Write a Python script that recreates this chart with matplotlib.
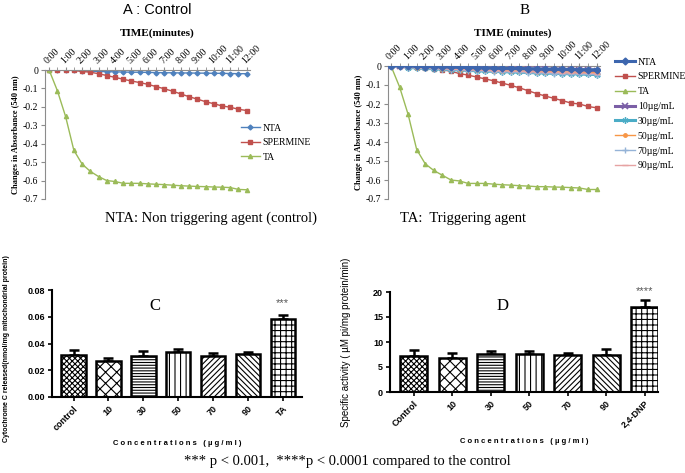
import numpy as np
import matplotlib.pyplot as plt

plt.rcParams['hatch.linewidth'] = 0.8

SERIF = 'Liberation Serif'
SANS = 'Liberation Sans'

# readings every 30 s, 0:00 .. 12:00
time_labels = ['0:00', '1:00', '2:00', '3:00', '4:00', '5:00', '6:00',
               '7:00', '8:00', '9:00', '10:00', '11:00', '12:00']

# panel A
nta_a = [0, 0, 0, -0.002, -0.004, -0.006, -0.008, -0.009, -0.01, -0.011, -0.012, -0.012,
         -0.013, -0.014, -0.015, -0.015, -0.016, -0.016, -0.017, -0.017, -0.018, -0.018,
         -0.019, -0.02, -0.02]
sperm_a = [0, 0, 0, -0.002, -0.008, -0.012, -0.02, -0.03, -0.04, -0.05, -0.06, -0.068,
           -0.078, -0.09, -0.102, -0.115, -0.13, -0.145, -0.158, -0.172, -0.183, -0.195,
           -0.202, -0.213, -0.22]
ta_a = [0, -0.112, -0.252, -0.435, -0.51, -0.55, -0.578, -0.6, -0.605, -0.615, -0.615,
        -0.615, -0.618, -0.62, -0.622, -0.625, -0.628, -0.63, -0.632, -0.633, -0.635,
        -0.636, -0.638, -0.648, -0.65]

# panel B
nta_b = [0, 0.001, 0, -0.002, -0.003, -0.004, -0.005, -0.006, -0.007, -0.008, -0.009,
         -0.01, -0.011, -0.012, -0.012, -0.013, -0.014, -0.015, -0.016, -0.016, -0.017,
         -0.018, -0.019, -0.019, -0.02]
sperm_b = [0, -0.002, -0.004, -0.006, -0.01, -0.014, -0.02, -0.028, -0.04, -0.048, -0.058,
           -0.068, -0.078, -0.09, -0.102, -0.115, -0.13, -0.145, -0.158, -0.17, -0.182,
           -0.195, -0.2, -0.213, -0.22]
ta_b = [0, -0.11, -0.255, -0.44, -0.515, -0.55, -0.575, -0.6, -0.605, -0.618, -0.618,
        -0.618, -0.622, -0.625, -0.627, -0.63, -0.632, -0.635, -0.635, -0.637, -0.638,
        -0.64, -0.642, -0.65, -0.65]
c10_b = [0, 0.002, -0.001, -0.002, -0.003, -0.005, -0.006, -0.007, -0.008, -0.009, -0.01,
         -0.011, -0.012, -0.013, -0.014, -0.015, -0.016, -0.017, -0.018, -0.019, -0.02,
         -0.021, -0.022, -0.023, -0.025]
c30_b = [0, 0.004, -0.008, -0.01, -0.012, -0.015, -0.017, -0.019, -0.021, -0.023, -0.025,
         -0.027, -0.028, -0.03, -0.031, -0.033, -0.034, -0.036, -0.037, -0.039, -0.04,
         -0.041, -0.042, -0.044, -0.045]
c50_b = [0, -0.004, -0.007, -0.009, -0.011, -0.013, -0.015, -0.017, -0.019, -0.02, -0.022,
         -0.023, -0.024, -0.025, -0.026, -0.027, -0.028, -0.029, -0.03, -0.031, -0.032,
         -0.033, -0.034, -0.034, -0.035]
c70_b = [0, -0.005, -0.008, -0.011, -0.013, -0.016, -0.018, -0.02, -0.022, -0.024, -0.026,
         -0.028, -0.029, -0.031, -0.032, -0.034, -0.035, -0.037, -0.038, -0.04, -0.041,
         -0.042, -0.043, -0.044, -0.045]
c90_b = [0, -0.003, -0.006, -0.008, -0.01, -0.012, -0.014, -0.016, -0.018, -0.02, -0.021,
         -0.023, -0.024, -0.026, -0.027, -0.028, -0.03, -0.031, -0.032, -0.034, -0.035,
         -0.036, -0.037, -0.038, -0.04]

# panel C: cytochrome c release
c_labels = ['control', '10', '30', '50', '70', '90', 'TA']
c_means = [0.0315, 0.027, 0.031, 0.0335, 0.031, 0.032, 0.058]
c_err = [0.004, 0.0025, 0.0035, 0.0025, 0.002, 0.0018, 0.0035]

# panel D: ATPase specific activity
d_labels = ['Control', '10', '30', '50', '70', '90', '2,4-DNP']
d_means = [7.25, 6.85, 7.6, 7.6, 7.4, 7.45, 17.0]
d_err = [1.1, 1.0, 0.6, 0.65, 0.5, 1.25, 1.45]

hatches = ['xxxxxx', 'xxx', '------', '|||', '//////', '\\\\\\\\\\\\', '+++']

W, H = 685, 473
fig = plt.figure(figsize=(6.85, 4.73), dpi=100)


def box(l, t, r, b):
    return [l / W, 1 - b / H, (r - l) / W, (b - t) / H]


def excel_axes(ax, xmin, xmax):
    x = np.arange(len(nta_a))
    ax.set_xlim(xmin, xmax)
    ax.set_ylim(-0.7, 0)
    for s in ['right', 'bottom']:
        ax.spines[s].set_visible(False)
    for s in ['left', 'top']:
        ax.spines[s].set_color('#8c8c8c')
        ax.spines[s].set_linewidth(0.8)
    ax.xaxis.tick_top()
    ax.set_xticks(x[::2])
    ax.set_xticks(x, minor=True)
    ax.set_xticklabels(time_labels, rotation=45, ha='left', va='bottom',
                       rotation_mode='anchor', family=SERIF, fontsize=7)
    ax.tick_params(axis='x', which='both', length=2, color='#8c8c8c', pad=1)
    yt = np.arange(0, -0.71, -0.1)
    ax.set_yticks(yt)
    ax.set_yticklabels(['0', '-0.1', '-0.2', '-0.3', '-0.4', '-0.5', '-0.6', '-0.7'],
                       family=SERIF, fontsize=7)
    ax.tick_params(axis='y', length=3, color='#8c8c8c', pad=2)
    return x


# ---- A ----
axA = fig.add_axes(box(45, 70, 250, 199))
x = excel_axes(axA, -0.5, 24.4)
axA.plot(x, nta_a, '-D', color='#4F81BD', lw=1, ms=2.5, label='NTA')
axA.plot(x, sperm_a, '-s', color='#C0504D', lw=1, ms=3, label='SPERMINE')
axA.plot(x, ta_a, '-^', color='#9BBB59', lw=1, ms=3, label='TA')
axA.legend(loc='upper left', bbox_to_anchor=(0.93, 0.62), frameon=False,
           prop={'family': SERIF, 'size': 7}, handlelength=2, borderpad=0,
           labelspacing=0.55, handletextpad=0.3)
axA.set_ylabel('Changes in Absorbance (540 nm)', family=SERIF, fontsize=6,
               fontweight='bold', labelpad=2)
fig.text(157 / W, 1 - 33 / H, 'TIME(minutes)', family=SERIF, fontsize=8,
         fontweight='bold', ha='center', va='center')
fig.text(157 / W, 1 - 10 / H, 'A : Control', family=SANS, fontsize=10.5,
         ha='center', va='center')

# ---- B ----
axB = fig.add_axes(box(388, 66, 600, 199))
x = excel_axes(axB, -0.35, 24.4)
axB.plot(x, nta_b, '-D', color='#3D66AE', lw=2.2, ms=3.5, label='NTA', zorder=5)
axB.plot(x, sperm_b, '-s', color='#C0504D', lw=1, ms=3, label='SPERMINE', zorder=3)
axB.plot(x, ta_b, '-^', color='#9BBB59', lw=1, ms=3, label='TA', zorder=3)
axB.plot(x, c10_b, '-x', color='#7B5FA6', lw=2.2, ms=4, mew=1.2, label='10µg/mL', zorder=4)
axB.plot(x, c30_b, '-', marker=(6, 2, 0), color='#4BACC6', lw=2.2, ms=4.5, mew=1,
         label='30µg/mL', zorder=4)
axB.plot(x, c50_b, '-o', color='#F79646', lw=1, ms=2.5, label='50µg/mL', zorder=4)
axB.plot(x, c70_b, '-+', color='#95B3D7', lw=1, ms=4, label='70µg/mL', zorder=4)
axB.plot(x, c90_b, '-_', color='#E6A3A3', lw=1, ms=4, label='90µg/mL', zorder=4)
axB.legend(loc='upper left', bbox_to_anchor=(1.05, 1.1), frameon=False,
           prop={'family': SERIF, 'size': 7}, handlelength=2, borderpad=0,
           labelspacing=0.6, handletextpad=0.3)
axB.set_ylabel('Change in Absorbance (540 nm)', family=SERIF, fontsize=6,
               fontweight='bold', labelpad=2)
fig.text(513 / W, 1 - 33 / H, 'TIME (minutes)', family=SERIF, fontsize=8,
         fontweight='bold', ha='center', va='center')
fig.text(525 / W, 1 - 10 / H, 'B', family=SERIF, fontsize=11,
         ha='center', va='center')

# captions
fig.text(211 / W, 1 - 218 / H, 'NTA: Non triggering agent (control)', family=SERIF,
         fontsize=10.5, ha='center', va='center')
fig.text(463 / W, 1 - 218 / H, 'TA:  Triggering agent', family=SERIF,
         fontsize=10.5, ha='center', va='center')
fig.text(347 / W, 1 - 461 / H, '*** p < 0.001,  ****p < 0.0001 compared to the control',
         family=SERIF, fontsize=10.5, ha='center', va='center')


def spaced(s):
    return ' '.join(s)


def prism_bars(ax, labels, means, err, xmax, ylim, yticks, ytl):
    pos = np.arange(len(labels))
    bars = ax.bar(pos, means, width=0.7, color='white', edgecolor='black', lw=1.8, zorder=2)
    for b, h in zip(bars, hatches):
        b.set_hatch(h)
    ax.errorbar(pos, means, yerr=[np.zeros(len(err)), err], fmt='none', ecolor='black',
                elinewidth=1.8, capsize=3.5, capthick=1.8, zorder=1)
    ax.set_xlim(-0.62, xmax)
    ax.set_ylim(*ylim)
    for s in ['right', 'top']:
        ax.spines[s].set_visible(False)
    for s in ['left', 'bottom']:
        ax.spines[s].set_linewidth(1.5)
    ax.set_xticks(pos)
    ax.set_xticklabels(labels, rotation=45, ha='right', va='top', rotation_mode='anchor',
                       family=SANS, fontsize=6.5, fontweight='bold')
    ax.set_yticks(yticks)
    ax.set_yticklabels(ytl, family=SANS, fontsize=6.5, fontweight='bold')
    ax.tick_params(length=3, width=1.2, pad=2)
    ax.set_xlabel(spaced('Concentrations (µg/ml)'), family=SANS, fontsize=5.5,
                  fontweight='bold', labelpad=6)


# ---- C ----
axC = fig.add_axes(box(52, 290, 302, 397))
prism_bars(axC, c_labels, c_means, c_err, 6.55, (0, 0.08),
           [0, 0.02, 0.04, 0.06, 0.08], ['0.00', '0.02', '0.04', '0.06', '0.08'])
axC.set_ylabel('Cytochrome C released(nmol/mg mitochondrial protein)', family=SANS,
               fontsize=5, fontweight='bold')
axC.yaxis.set_label_coords(-0.168, 0.45)
axC.text(0.41, 0.85, 'C', transform=axC.transAxes, family=SERIF, fontsize=12,
         ha='center', va='center')
axC.text(6, 0.0703, '***', family=SANS, fontsize=8, color='#555555', ha='center', va='center')

# ---- D ----
axD = fig.add_axes(box(390, 292, 658, 392))
prism_bars(axD, d_labels, d_means, d_err, 6.35, (0, 20),
           [0, 5, 10, 15, 20], ['0', '5', '10', '15', '20'])
axD.set_ylabel('Specific activity ( µM pi/mg protein/min)', family=SANS, fontsize=7)
axD.yaxis.set_label_coords(-0.145, 0.5)
axD.text(0.42, 0.86, 'D', transform=axD.transAxes, family=SERIF, fontsize=12,
         ha='center', va='center')
axD.text(6, 20.2, '****', family=SANS, fontsize=8, color='#555555', ha='center', va='center')

fig.savefig('out.png', dpi=100)
